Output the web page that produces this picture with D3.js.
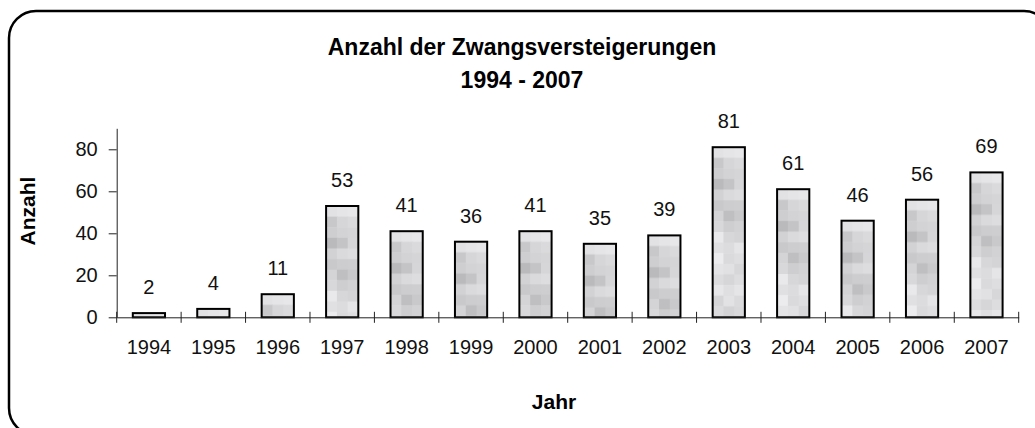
<!DOCTYPE html>
<html>
<head>
<meta charset="utf-8">
<script src="https://cdn.jsdelivr.net/npm/d3@7"></script>
<style>
  body { margin: 0; background: #fff; }
  svg { font-family: "Liberation Sans", Arial, sans-serif; }
</style>
</head>
<body>
<svg width="1035" height="428"></svg>
<script>
const YEARS = ['1994', '1995', '1996', '1997', '1998', '1999', '2000',
               '2001', '2002', '2003', '2004', '2005', '2006', '2007'];
const COUNTS = [2, 4, 11, 53, 41, 36, 41, 35, 39, 81, 61, 46, 56, 69];
const Y_TICKS = [0, 20, 40, 60, 80];
const TITLE = ['Anzahl der Zwangsversteigerungen', '1994 - 2007'];

// grey levels of the texture blocks (left, middle, right column)
const TEXTURE = [
    [226, 229, 231], [200, 214, 218], [206, 211, 213], [186, 196, 214],
    [210, 218, 221], [201, 205, 206], [212, 191, 201], [216, 206, 210],
    [233, 215, 212], [224, 220, 229], [236, 218, 222], [228, 225, 215],
    [220, 214, 221], [231, 223, 229], [213, 226, 218], [219, 211, 216]
];

const svg = d3.select('svg');

// frame
svg.append('rect')
    .attr('x', 9).attr('y', 11)
    .attr('width', 1042).attr('height', 424)
    .attr('rx', 27)
    .attr('fill', 'none')
    .attr('stroke', '#000')
    .attr('stroke-width', 2.5);

// texture pattern, anchored to every bar's own corner
const cw = 10.8, ch = 10.6;
const pat = svg.append('defs').append('pattern')
    .attr('id', 'tex')
    .attr('patternUnits', 'userSpaceOnUse')
    .attr('width', cw * 3).attr('height', ch * TEXTURE.length);
TEXTURE.forEach((row, r) => {
    row.forEach((g, c) => {
        pat.append('rect')
            .attr('x', c * cw).attr('y', r * ch)
            .attr('width', cw + 0.5).attr('height', ch + 0.5)
            .attr('fill', d3.rgb(g, g, g + 2));
    });
});

const x0 = 116.7, x1 = 1018.7;
const xScale = d3.scaleBand()
    .domain(YEARS)
    .range([x0, x1])
    .paddingInner(0.5)
    .paddingOuter(0.25);
const yScale = d3.scaleLinear().domain([0, 90]).range([317.3, 128.3]);

// title
svg.append('text')
    .attr('x', 522).attr('y', 55)
    .attr('text-anchor', 'middle')
    .attr('font-weight', 'bold')
    .attr('font-size', 23)
    .selectAll('tspan')
    .data(TITLE)
    .enter()
    .append('tspan')
    .attr('x', 522)
    .attr('dy', (d, i) => i ? 33 : 0)
    .text(d => d);

// bars
const bars = svg.selectAll('.bar')
    .data(COUNTS)
    .enter()
    .append('g')
    .classed('bar', true)
    .attr('transform', (d, i) => `translate(${xScale(YEARS[i])},${yScale(d)})`);

bars.append('rect')
    .attr('width', xScale.bandwidth())
    .attr('height', d => yScale(0) - yScale(d))
    .attr('fill', 'url(#tex)')
    .attr('stroke', '#000')
    .attr('stroke-width', 2);

// value labels
svg.selectAll('.val')
    .data(COUNTS)
    .enter()
    .append('text')
    .classed('val', true)
    .attr('x', (d, i) => xScale(YEARS[i]) + xScale.bandwidth() / 2)
    .attr('y', d => yScale(d) - 19)
    .attr('text-anchor', 'middle')
    .attr('font-size', 20)
    .attr('fill', '#111')
    .text(d => d);

// y axis
const yAxis = svg.append('g')
    .attr('transform', `translate(${x0},0)`)
    .call(d3.axisLeft(yScale).tickValues(Y_TICKS).tickSize(8).tickSizeOuter(0).tickPadding(11));
yAxis.selectAll('text').attr('font-size', 20).attr('fill', '#111').attr('font-family', null);
yAxis.selectAll('line, path').attr('stroke', '#222');

// x axis: labels at band centres, ticks at band edges
const xAxis = svg.append('g')
    .attr('transform', `translate(0,${yScale(0)})`)
    .call(d3.axisBottom(xScale).tickSize(0).tickPadding(23));
xAxis.selectAll('text').attr('font-size', 20).attr('fill', '#111').attr('font-family', null);
xAxis.select('path').attr('stroke', '#222');

xAxis.selectAll('.edge')
    .data(d3.range(YEARS.length + 1))
    .enter()
    .append('line')
    .classed('edge', true)
    .attr('x1', i => x0 + i * xScale.step())
    .attr('x2', i => x0 + i * xScale.step())
    .attr('y1', -5.5)
    .attr('y2', 5.5)
    .attr('stroke', '#222');

// axis titles
svg.append('text')
    .attr('transform', 'translate(35,211) rotate(-90)')
    .attr('text-anchor', 'middle')
    .attr('font-weight', 'bold')
    .attr('font-size', 21)
    .text('Anzahl');

svg.append('text')
    .attr('x', 554).attr('y', 409)
    .attr('text-anchor', 'middle')
    .attr('font-weight', 'bold')
    .attr('font-size', 21)
    .text('Jahr');
</script>
</body>
</html>
